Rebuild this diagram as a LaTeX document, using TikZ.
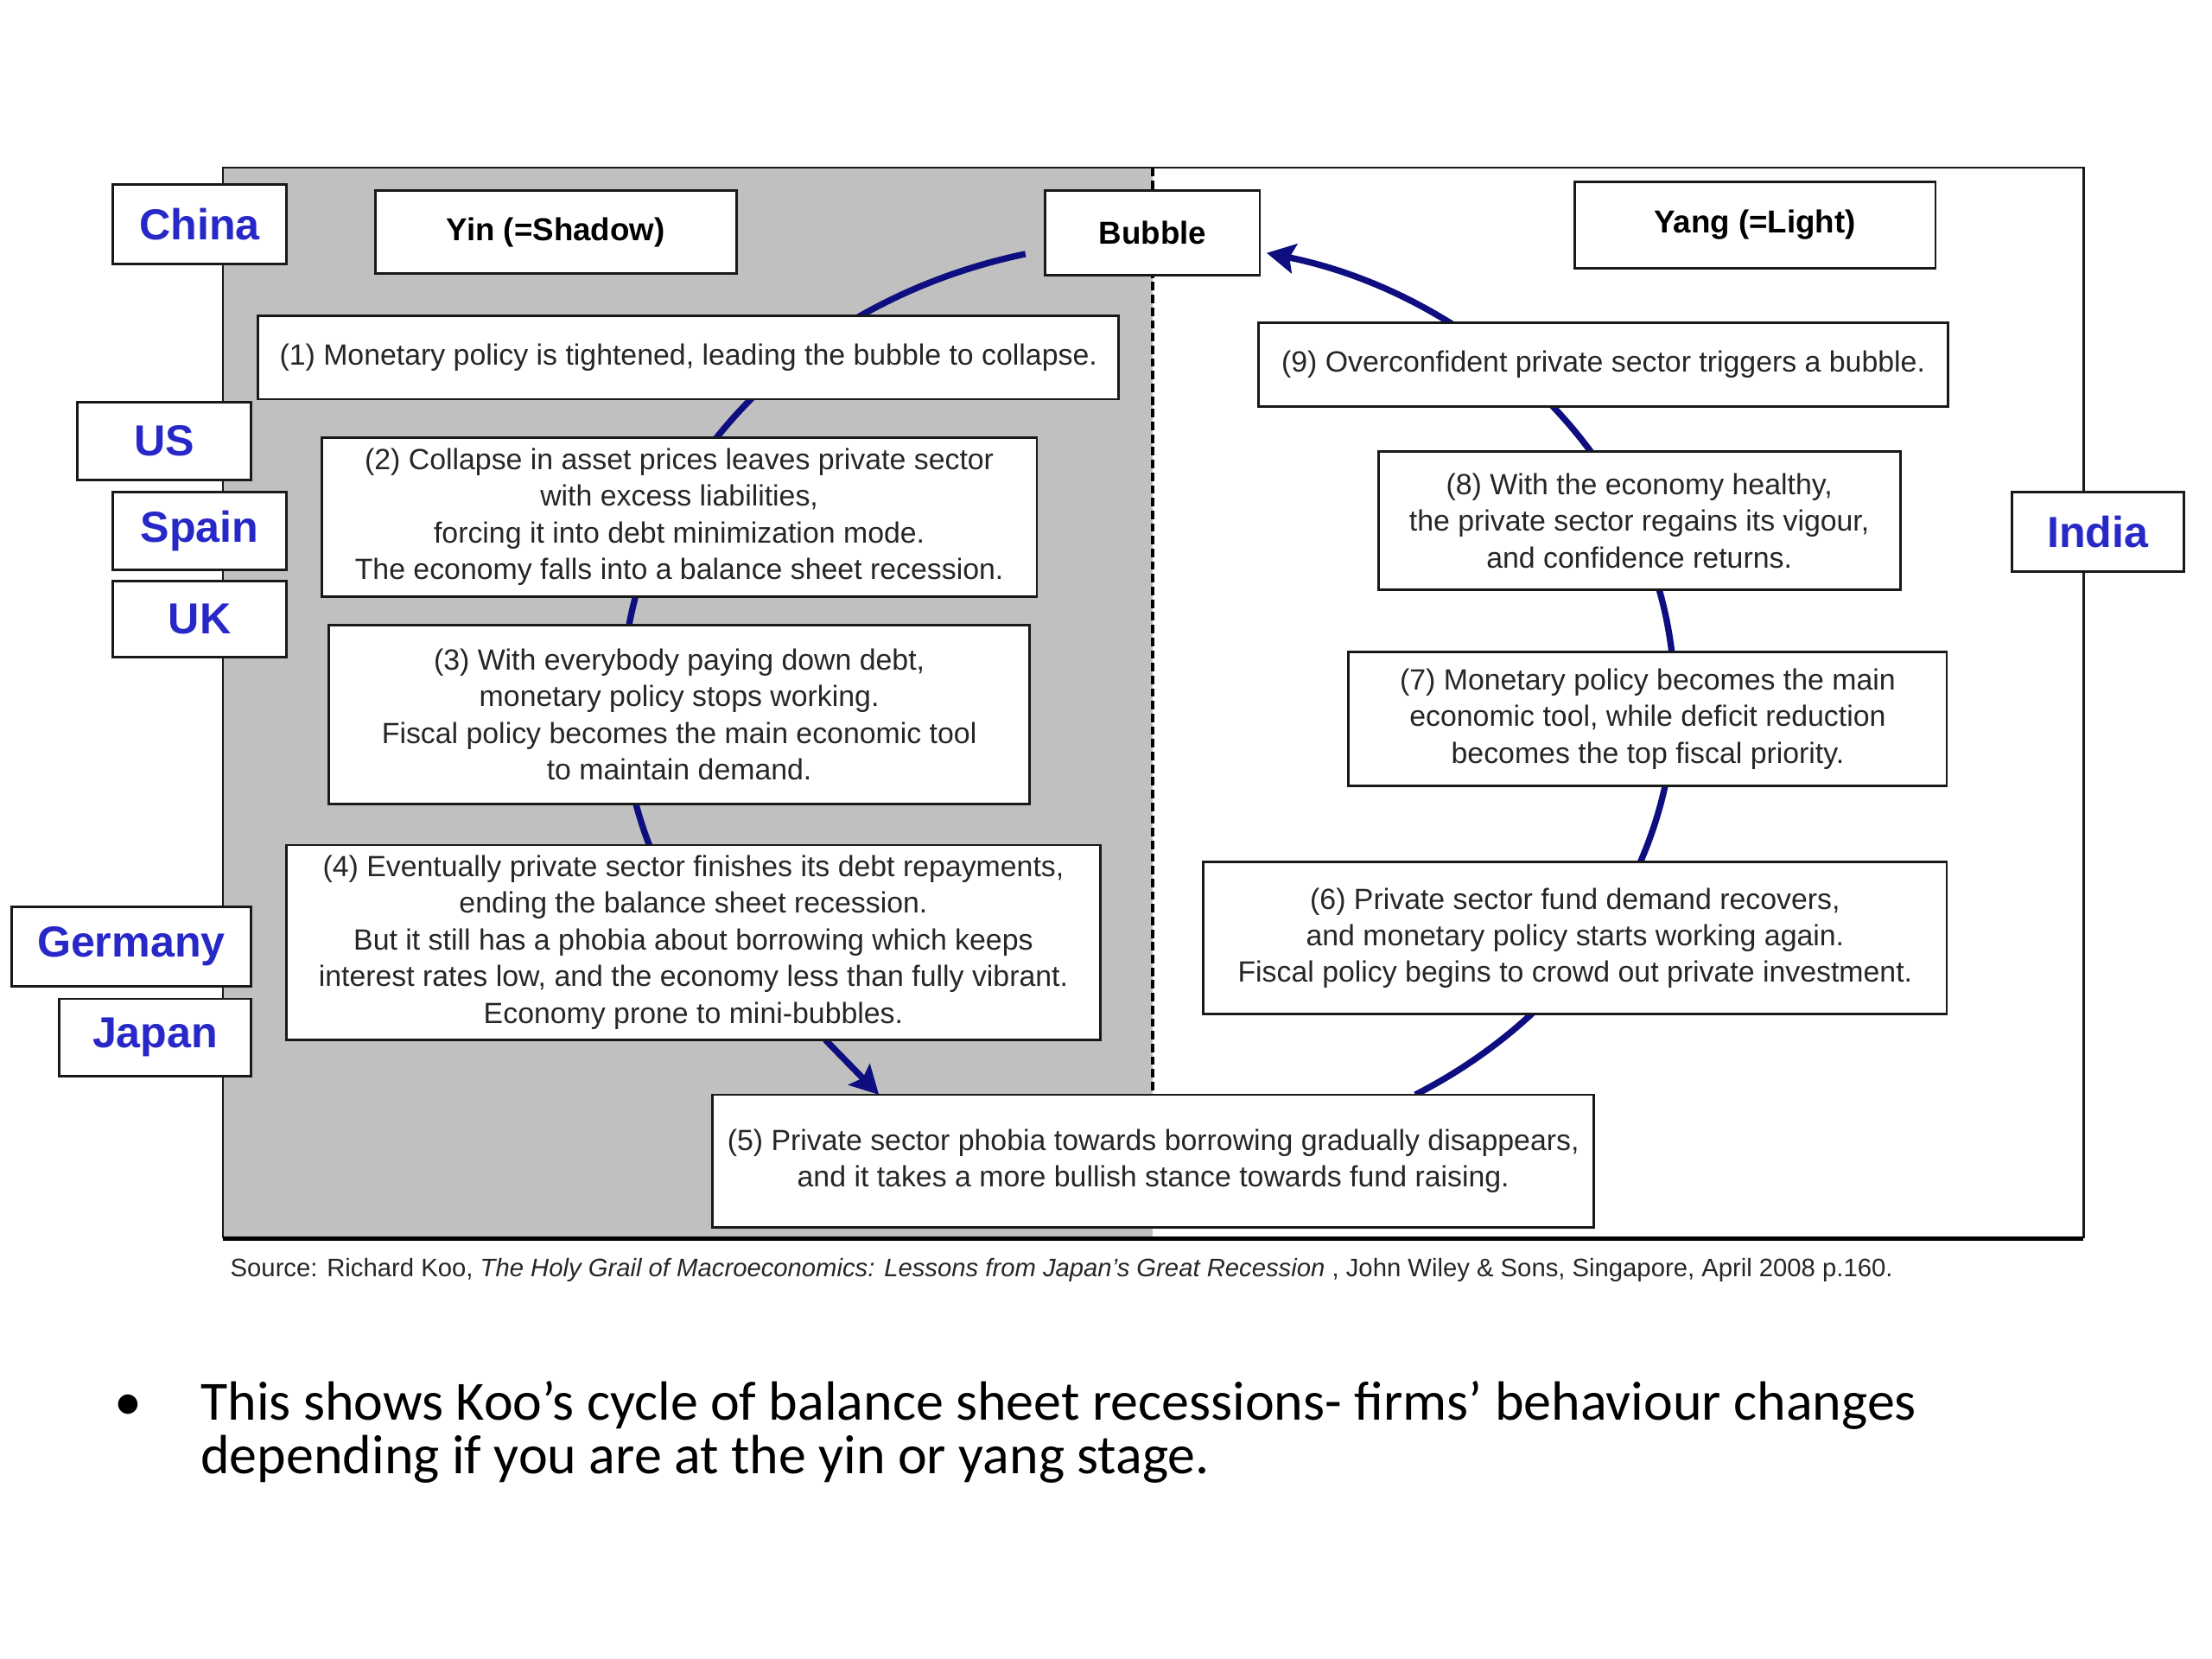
\documentclass[tikz,border=0pt]{standalone}
\usepackage{fontspec}
\setmainfont{Liberation Sans}
\newfontfamily\carlito{Carlito}
\usetikzlibrary{arrows.meta}
\definecolor{navyc}{RGB}{14,14,128}
\definecolor{ctry}{RGB}{40,40,200}
\definecolor{shadegray}{RGB}{192,192,192}
\definecolor{txtc}{RGB}{38,38,38}
\definecolor{linec}{RGB}{25,25,25}
\newcommand\bxfont{\fontsize{11.8}{14.8}\selectfont}
\newcommand\hdfont{\fontsize{12.8}{15}\selectfont\bfseries}
\newcommand\cyfont{\fontsize{17.5}{20}\selectfont\bfseries}
\newcommand\srcfont{\fontsize{10.2}{12}\selectfont}
\newcommand\bulfont{\carlito\fontsize{22.3}{21.4}\selectfont}
\pgfdeclarelayer{background}
\pgfsetlayers{background,main}
\begin{document}
\begin{tikzpicture}[x=0.02cm,y=-0.02cm,
  bx/.style={draw=linec, line width=1pt, fill=white, inner sep=0pt, outer sep=0pt, align=center, font=\bxfont, text=txtc},
  hd/.style={bx, font=\hdfont, text=black},
  cty/.style={bx, font=\cyfont, text=ctry},
  cyc/.style={draw=navyc, line width=0.09cm},
  tip/.style={-{Stealth[length=0.40cm,width=0.42cm,inset=0.07cm]}}]
\useasboundingbox (0,0) rectangle (1568,1176);

% boxes of the cycle
\node[bx, minimum width=12.2cm, minimum height=1.18cm] (b1) at (488,253.5) {(1) Monetary policy is tightened, leading the bubble to collapse.};
\node[bx, minimum width=10.14cm, minimum height=2.26cm] (b2) at (481.5,366.5) {(2) Collapse in asset prices leaves private sector\\with excess liabilities,\\forcing it into debt minimization mode.\\The economy falls into a balance sheet recession.};
\node[bx, minimum width=9.94cm, minimum height=2.54cm] (b3) at (481.5,506.5) {(3) With everybody paying down debt,\\monetary policy stops working.\\Fiscal policy becomes the main economic tool\\to maintain demand.};
\node[bx, minimum width=11.54cm, minimum height=2.76cm] (b4) at (491.5,668) {(4) Eventually private sector finishes its debt repayments,\\ending the balance sheet recession.\\But it still has a phobia about borrowing which keeps\\interest rates low, and the economy less than fully vibrant.\\Economy prone to mini-bubbles.};
\node[bx, minimum width=12.5cm, minimum height=1.88cm] (b5) at (817.5,823) {(5) Private sector phobia towards borrowing gradually disappears,\\and it takes a more bullish stance towards fund raising.};
\node[bx, minimum width=10.54cm, minimum height=2.16cm] (b6) at (1116.5,665) {(6) Private sector fund demand recovers,\\and monetary policy starts working again.\\Fiscal policy begins to crowd out private investment.};
\node[bx, minimum width=8.48cm, minimum height=1.9cm] (b7) at (1168,509.5) {(7) Monetary policy becomes the main\\economic tool, while deficit reduction\\becomes the top fiscal priority.};
\node[bx, minimum width=7.4cm, minimum height=1.96cm] (b8) at (1162,369) {(8) With the economy healthy,\\the private sector regains its vigour,\\and confidence returns.};
\node[bx, minimum width=9.78cm, minimum height=1.18cm] (b9) at (1136.5,258.5) {(9) Overconfident private sector triggers a bubble.};

% headers
\node[hd, minimum width=5.12cm, minimum height=1.18cm] (yin) at (394,164.5) {Yin (=Shadow)};
\node[hd, minimum width=3.04cm, minimum height=1.2cm] (bubble) at (817,165) {Bubble};
\node[hd, minimum width=5.12cm, minimum height=1.22cm] (yang) at (1244,159.5) {Yang (=Light)};

% countries
\node[cty, minimum width=2.46cm, minimum height=1.12cm] (china) at (141.5,159) {China};
\node[cty, minimum width=2.46cm, minimum height=1.1cm] (us) at (116.5,312.5) {US};
\node[cty, minimum width=2.46cm, minimum height=1.1cm] (spain) at (141.5,376.5) {Spain};
\node[cty, minimum width=2.46cm, minimum height=1.08cm] (uk) at (141.5,439) {UK};
\node[cty, minimum width=3.4cm, minimum height=1.12cm] (germany) at (93,671) {Germany};
\node[cty, minimum width=2.72cm, minimum height=1.1cm] (japan) at (110,735.5) {Japan};
\node[cty, minimum width=2.44cm, minimum height=1.12cm] (india) at (1487,377) {India};

% source and bullet text
\node[anchor=base west, inner sep=0pt, font=\srcfont, text=txtc] (src) at (163,905) {Source: Richard Koo, \textit{The Holy Grail of Macroeconomics: Lessons from Japan's Great Recession} , John Wiley \& Sons, Singapore, April 2008 p.160.};
\node[anchor=base, inner sep=0pt, font=\bulfont] (dot) at (91,1006.5) {•};
\node[anchor=base west, inner sep=0pt, font=\bulfont] (line1) at (142,1006.5) {This shows Koo’s cycle of balance sheet recessions- firms’ behaviour changes};
\node[anchor=base west, inner sep=0pt, font=\bulfont] (line2) at (142,1044.3) {depending if you are at the yin or yang stage.};

\begin{pgfonlayer}{background}
\fill[white] (0,0) rectangle (1568,1176);
\fill[shadegray] (158,119) rectangle (817,878);
\draw[linec, line width=0.8pt] (158,878) -- (158,119) -- (1477,119) -- (1477,878);
\draw[linec, line width=1.2pt] (1477,119) -- (1477,878);
\draw[black, line width=0.065cm] (158,878) -- (1477,878);
\draw[black, line width=0.045cm, dash pattern=on 0.12cm off 0.06cm] (817,119) -- (817,776);
% left half of the cycle: Bubble -> (1) -> (2) -> (3) -> (4)
\draw[cyc] ([shift={(-0.282cm,-0.3cm)}]bubble.west) arc[start angle=-103.5, end angle=-222, x radius=373, y radius=325];
% (4) -> (5)
\draw[cyc,tip] ([xshift=1.87cm]b4.south) -- ([xshift=-3.89cm]b5.north);
% right half of the cycle: (5) -> (6) -> (7) -> (8) -> (9) -> Bubble
\draw[cyc,tip] ([xshift=3.716cm]b5.north) arc[start angle=59.5, end angle=-77, x radius=373, y radius=325];
\end{pgfonlayer}
\end{tikzpicture}
\end{document}
